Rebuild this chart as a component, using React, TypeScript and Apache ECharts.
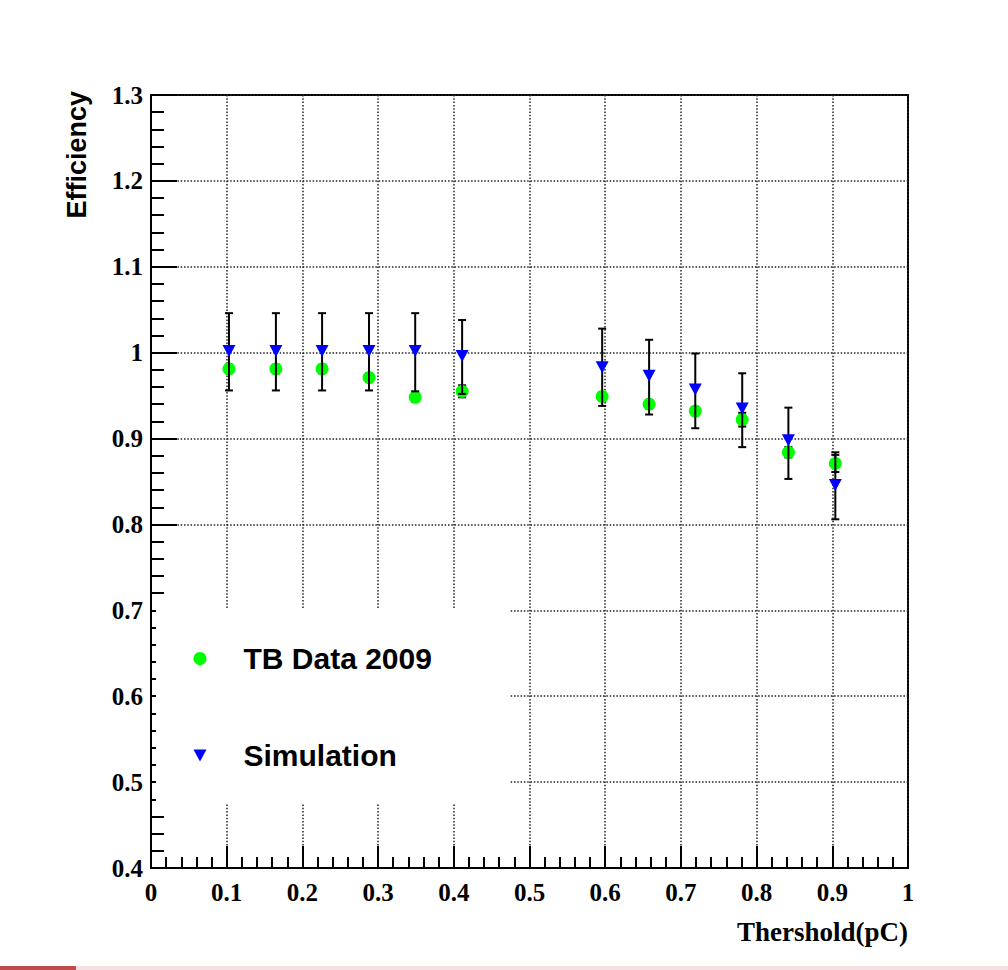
import React, { useEffect, useRef } from "react";
import * as echarts from "echarts";

// Threshold values (pC)
const xValues = [0.103, 0.165, 0.226, 0.288, 0.349, 0.411, 0.596, 0.658, 0.719, 0.781, 0.842, 0.904];
// TB Data 2009 efficiency
const tbData = [0.981, 0.981, 0.981, 0.971, 0.948, 0.955, 0.949, 0.94, 0.932, 0.922, 0.884, 0.871];
const tbErr = [0.005, 0.005, 0.005, 0.005, 0.005, 0.007, 0.005, 0.005, 0.005, 0.008, 0.006, 0.01];
// Simulation efficiency
const simData = [1.002, 1.002, 1.002, 1.002, 1.002, 0.996, 0.983, 0.973, 0.957, 0.935, 0.898, 0.846];
const simErrUp = [0.044, 0.044, 0.044, 0.044, 0.044, 0.042, 0.045, 0.042, 0.042, 0.041, 0.038, 0.038];
const simErrDown = [0.046, 0.046, 0.046, 0.046, 0.047, 0.044, 0.045, 0.045, 0.045, 0.045, 0.045, 0.04];

const seriesNames = ["TB Data 2009", "Simulation"];
const xTitle = "Thershold(pC)";
const yTitle = "Efficiency";

const errorBarRender = (params: any, api: any) => {
  const x = api.value(0);
  const lo = api.value(1);
  const hi = api.value(2);
  const top = api.coord([x, hi]);
  const bot = api.coord([x, lo]);
  const cw = 4;
  const style = { stroke: "#000", lineWidth: 2 };
  return {
    type: "group",
    children: [
      { type: "line", shape: { x1: top[0], y1: top[1], x2: bot[0], y2: bot[1] }, style },
      { type: "line", shape: { x1: top[0] - cw, y1: top[1], x2: top[0] + cw, y2: top[1] }, style },
      { type: "line", shape: { x1: bot[0] - cw, y1: bot[1], x2: bot[0] + cw, y2: bot[1] }, style },
    ],
  };
};

export default function App() {
  const ref = useRef<HTMLDivElement>(null);

  useEffect(() => {
    document.body.style.margin = "0";
    if (!ref.current) return;
    const chart = echarts.init(ref.current, null, { renderer: "svg" });

    const tbPoints = xValues.map((x, i) => [x, tbData[i]]);
    const simPoints = xValues.map((x, i) => [x, simData[i]]);
    const tbErrData = xValues.map((x, i) => [x, tbData[i] - tbErr[i], tbData[i] + tbErr[i]]);
    const simErrData = xValues.map((x, i) => [x, simData[i] - simErrDown[i], simData[i] + simErrUp[i]]);

    const tickLabel = {
      fontFamily: "Liberation Serif",
      fontWeight: "bold" as const,
      fontSize: 25,
      color: "#000",
    };
    const gridLine = { show: true, lineStyle: { color: "#222", width: 1.5, type: [1.5, 1.8] } };

    chart.setOption({
      animation: false,
      backgroundColor: "#fff",
      grid: {
        left: 151,
        right: 100,
        top: 95,
        bottom: 102,
        show: true,
        borderColor: "#000",
        borderWidth: 2,
        backgroundColor: "transparent",
      },
      xAxis: {
        type: "value",
        min: 0,
        max: 1,
        interval: 0.1,
        axisLine: { show: true, lineStyle: { color: "#000", width: 2 } },
        axisTick: { show: true, inside: true, length: 22, lineStyle: { color: "#000", width: 2 } },
        minorTick: { show: true, splitNumber: 5, length: 11, lineStyle: { color: "#000", width: 2 } },
        axisLabel: { ...tickLabel, margin: 12, showMinLabel: true, showMaxLabel: true },
        splitLine: gridLine,
      },
      yAxis: {
        type: "value",
        min: 0.4,
        max: 1.3,
        interval: 0.1,
        axisLine: { show: true, lineStyle: { color: "#000", width: 2 } },
        axisTick: { show: true, inside: true, length: 26, lineStyle: { color: "#000", width: 2 } },
        minorTick: { show: true, splitNumber: 5, length: 13, lineStyle: { color: "#000", width: 2 } },
        axisLabel: { ...tickLabel, margin: 8, showMinLabel: true, showMaxLabel: true },
        splitLine: gridLine,
      },
      legend: {
        show: true,
        orient: "vertical",
        left: 193.5,
        top: 643.5,
        padding: 0,
        itemGap: 67,
        itemWidth: 13,
        itemHeight: 13,
        selectedMode: false,
        z: 10,
        data: [
          { name: seriesNames[0], icon: "circle" },
          { name: seriesNames[1], icon: "path://M0,0L13,0L6.5,12Z" },
        ],
        textStyle: {
          fontFamily: "Liberation Sans",
          fontWeight: "bold",
          fontSize: 30,
          lineHeight: 30,
          color: "#000",
          padding: [0, 0, 0, 32],
        },
      },
      graphic: [
        {
          type: "rect",
          z: 3,
          shape: { x: 156, y: 608, width: 354, height: 195 },
          style: { fill: "#fff" },
        },
        {
          type: "text",
          z: 5,
          x: 908,
          y: 932,
          style: {
            text: xTitle,
            fontFamily: "Liberation Serif",
            fontWeight: "bold",
            fontSize: 27,
            fill: "#000",
            align: "right",
            verticalAlign: "middle",
          },
        },
        {
          type: "text",
          z: 5,
          x: 77,
          y: 91,
          rotation: Math.PI / 2,
          style: {
            text: yTitle,
            fontFamily: "Liberation Sans",
            fontWeight: "bold",
            fontSize: 27,
            fill: "#000",
            align: "right",
            verticalAlign: "middle",
          },
        },
        {
          type: "rect",
          z: 5,
          shape: { x: 0, y: 966, width: 1008, height: 4 },
          style: { fill: "#f6dfdf" },
        },
        {
          type: "rect",
          z: 6,
          shape: { x: 0, y: 966, width: 76, height: 4 },
          style: { fill: "#bf4b4b" },
        },
      ],
      series: [
        {
          name: "tbErr",
          type: "custom",
          renderItem: errorBarRender,
          data: tbErrData,
          encode: { x: 0, y: [1, 2] },
          z: 2,
          silent: true,
        },
        {
          name: seriesNames[0],
          type: "scatter",
          data: tbPoints,
          symbol: "circle",
          symbolSize: 13,
          itemStyle: { color: "#00ff00", opacity: 1 },
          z: 3,
        },
        {
          name: "simErr",
          type: "custom",
          renderItem: errorBarRender,
          data: simErrData,
          encode: { x: 0, y: [1, 2] },
          z: 4,
          silent: true,
        },
        {
          name: seriesNames[1],
          type: "scatter",
          data: simPoints,
          symbol: "triangle",
          symbolRotate: 180,
          symbolSize: [13, 12],
          itemStyle: { color: "#0000ff", opacity: 1 },
          z: 5,
        },
      ],
    });

    return () => {
      chart.dispose();
    };
  }, []);

  return <div ref={ref} style={{ width: 1008, height: 970 }} />;
}
